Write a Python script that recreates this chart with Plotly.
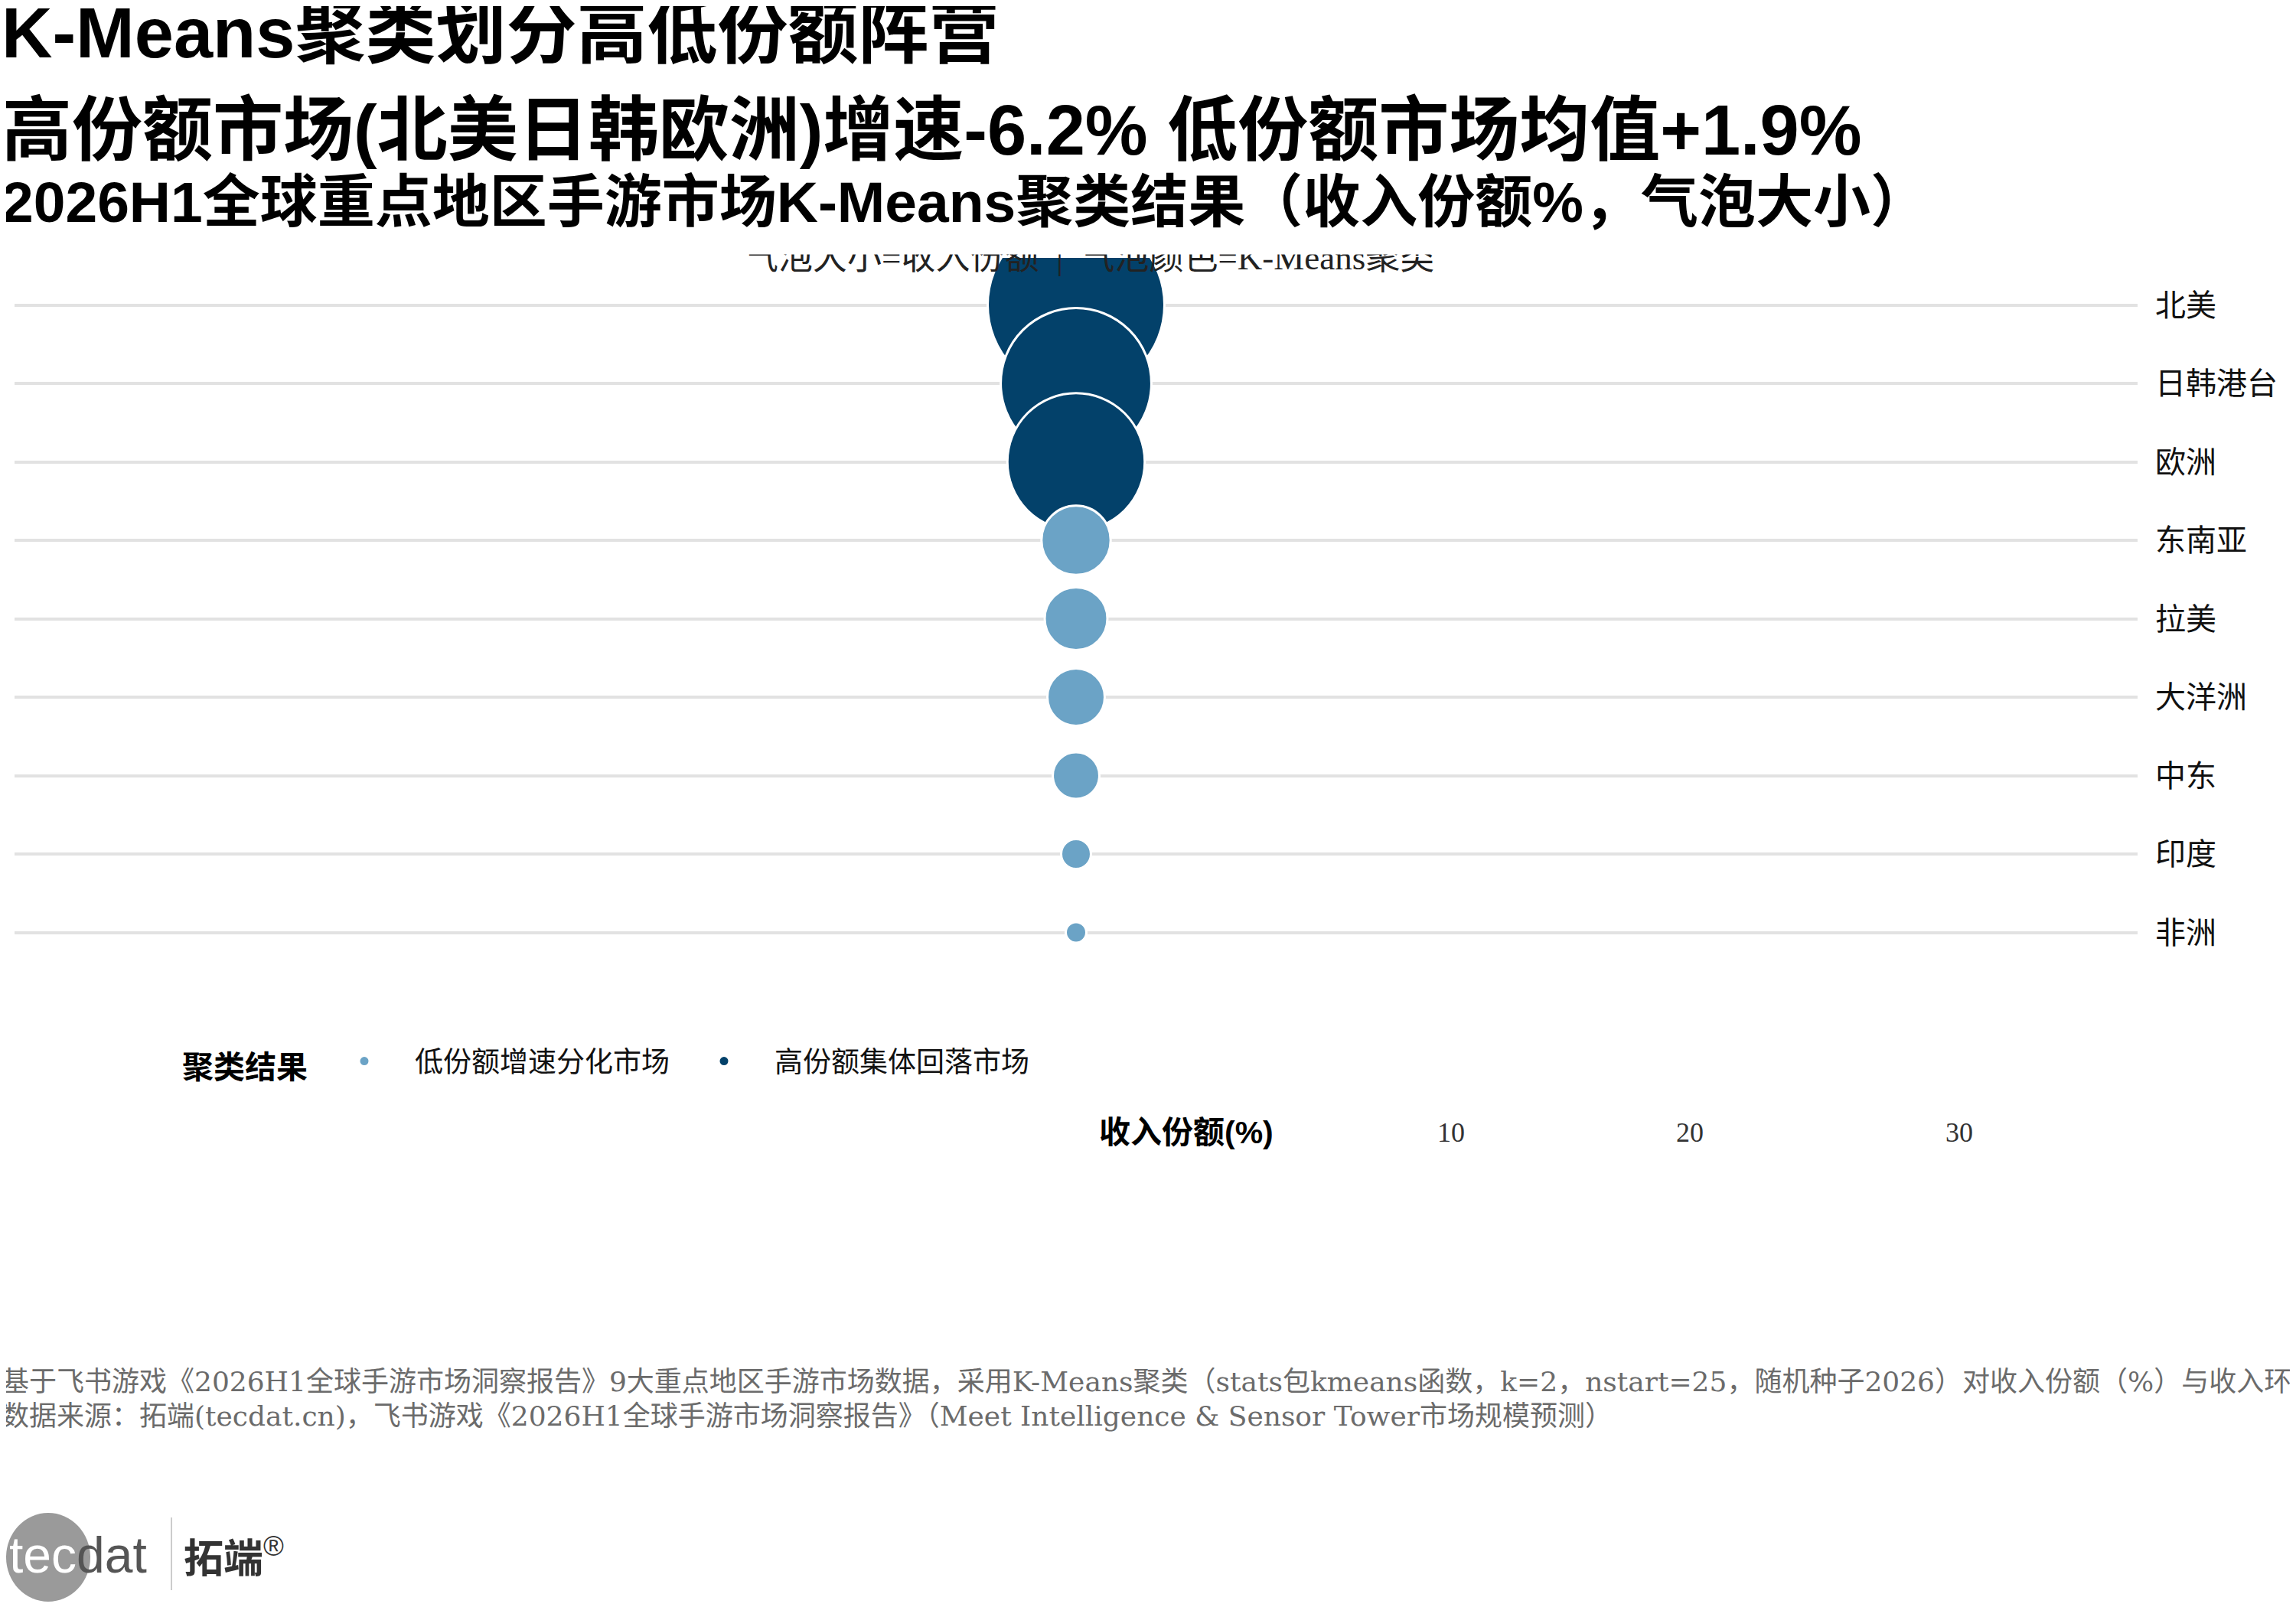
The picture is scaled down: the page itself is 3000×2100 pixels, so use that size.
import numpy as np
import plotly.graph_objects as go

# 9 regions, top to bottom as drawn
regions = ["北美", "日韩港台", "欧洲", "东南亚", "拉美", "大洋洲", "中东", "印度", "非洲"]
revenue_share = [30.5, 21.6, 17.7, 4.3, 3.6, 3.1, 2.3, 1.6, 1.5]
cluster = ["高份额集体回落市场", "高份额集体回落市场", "高份额集体回落市场",
           "低份额增速分化市场", "低份额增速分化市场", "低份额增速分化市场",
           "低份额增速分化市场", "低份额增速分化市场", "低份额增速分化市场"]
x_pos = [0, 0, 0, 0, 0, 0, 0, 0, 0]  # every bubble sits on the same column
legend_order = ["低份额增速分化市场", "高份额集体回落市场"]
size_breaks = [10, 20, 30]

colors = {"高份额集体回落市场": "#03416A", "低份额增速分化市场": "#6BA3C6"}

W, H = 3000, 2100
OFF = 8  # page body margin, the html puts the chart 8px in
ML, MT = 19 - OFF, 337 - OFF
PW, PH = 2774, 943
MR = W - ML - PW
MB = H - MT - PH

SERIF = "Liberation Serif, Noto Sans CJK SC, serif"
FOOT = "DejaVu Serif, Noto Sans CJK SC, serif"
SANS = "Liberation Sans, Noto Sans CJK SC, sans-serif"


def xp(px):
    return (px - OFF - ML) / PW


def yp(py):
    return (H - MB - (py - OFF)) / PH


share = np.array(revenue_share)
d_min, d_max = 27, 231


def bubble(v):
    # area-style size scale, like ggplot's scale_size
    v = np.asarray(v, dtype=float)
    return d_min + (d_max - d_min) * np.sqrt((v - share.min()) / (share.max() - share.min()))


fig = go.Figure()

for name in ["高份额集体回落市场", "低份额增速分化市场"]:
    idx = [i for i, c in enumerate(cluster) if c == name]
    fig.add_trace(go.Scatter(
        x=[x_pos[i] for i in idx],
        y=[regions[i] for i in idx],
        mode="markers",
        marker=dict(size=bubble(share[idx]), color=colors[name],
                    line=dict(color="white", width=3), opacity=1),
        showlegend=False,
        customdata=[revenue_share[i] for i in idx],
        hovertemplate="%{y}: %{customdata}%<extra></extra>",
    ))

# small dots just for the legend
for name in legend_order:
    fig.add_trace(go.Scatter(
        x=[None], y=[None], mode="markers", name=name,
        marker=dict(size=11, color=colors[name]),
    ))

annotations = []

# subtitle, half hidden under the title block
annotations.append(dict(
    text="气泡大小=收入份额  |  气泡颜色=K-Means聚类",
    x=xp(1423), y=yp(337), xanchor="center", yanchor="middle",
    font=dict(family=SERIF, size=45, color="#222222"),
))
# white block behind the titles
annotations.append(dict(
    text=" ", x=xp(1500), y=yp(166), xanchor="center", yanchor="middle",
    width=3000, height=332, bgcolor="white", borderpad=0,
))

titles = [
    ("K-Means聚类划分高低份额阵营", 43, 92),
    ("高份额市场(北美日韩欧洲)增速-6.2% 低份额市场均值+1.9%", 170, 92),
    ("2026H1全球重点地区手游市场K-Means聚类结果（收入份额%，气泡大小）", 264, 75),
]
for txt, yc, fs in titles:
    annotations.append(dict(
        text="<b>" + txt + "</b>", x=xp(0), y=yp(yc), xanchor="left", yanchor="middle",
        font=dict(family=SANS, size=fs, color="#000000"),
    ))

# size legend (keys are blank in the original)
annotations.append(dict(
    text="<b>收入份额(%)</b>", x=xp(1434), y=yp(1480), xanchor="left", yanchor="middle",
    font=dict(family=SANS, size=41, color="#000000"),
))
cur = 1666 + 76
for b in size_breaks:
    cur += float(bubble(b))
    lab = cur + 17
    annotations.append(dict(
        text=str(b), x=xp(lab), y=yp(1480), xanchor="center", yanchor="middle",
        font=dict(family=SERIF, size=36, color="#333333"),
    ))
    cur = lab + 17 + 88

# footer
footer = [
    "基于飞书游戏《2026H1全球手游市场洞察报告》9大重点地区手游市场数据，采用K-Means聚类（stats包kmeans函数，k=2，nstart=25，随机种子2026）对收入份额（%）与收入环比增速（%）进行聚类",
    "数据来源：拓端(tecdat.cn)，飞书游戏《2026H1全球手游市场洞察报告》（Meet Intelligence & Sensor Tower市场规模预测）",
]
for txt, yc in zip(footer, [1805, 1851]):
    annotations.append(dict(
        text=txt, x=xp(0), y=yp(yc), xanchor="left", yanchor="middle",
        font=dict(family=FOOT, size=36, color="#6b6b6b"),
    ))

# logo
annotations.append(dict(
    text="<span style='color:white'>tec</span>dat", x=xp(10), y=yp(2032),
    xanchor="left", yanchor="middle",
    font=dict(family=SANS, size=66, color="#555555"),
))
annotations.append(dict(
    text="<b>拓端</b><sup>®</sup>", x=xp(238), y=yp(2033), xanchor="left", yanchor="middle",
    font=dict(family=SANS, size=52, color="#333333"),
))
for a in annotations:
    a.setdefault("xref", "paper")
    a.setdefault("yref", "paper")
    a.setdefault("showarrow", False)

shapes = [
    dict(type="circle", xref="paper", yref="paper",
         x0=xp(8), x1=xp(118), y0=yp(2093), y1=yp(1977),
         fillcolor="#9a9a9a", line=dict(width=0), layer="below"),
    dict(type="line", xref="paper", yref="paper",
         x0=xp(224), x1=xp(224), y0=yp(2078), y1=yp(1983),
         line=dict(color="#cccccc", width=2)),
]

fig.update_layout(
    width=W, height=H,
    margin=dict(l=ML, r=MR, t=MT, b=MB, pad=0, autoexpand=False),
    plot_bgcolor="white", paper_bgcolor="white",
    xaxis=dict(range=[-1, 1], visible=False),
    yaxis=dict(
        type="category", categoryorder="array", categoryarray=regions,
        range=[len(regions) - 1 + 0.6, -0.6],
        side="right", showgrid=True, gridcolor="#e2e2e2", gridwidth=4,
        zeroline=False, showline=False, ticks="", ticklabelstandoff=22,
        tickfont=dict(family=SERIF, size=40, color="#111111"),
    ),
    legend=dict(
        orientation="h", x=xp(236), xanchor="left", y=yp(1388), yanchor="middle",
        title=dict(text="<b>聚类结果</b>", font=dict(family=SANS, size=41, color="#000000")),
        font=dict(family=SERIF, size=37, color="#111111"),
        itemwidth=122, bgcolor="rgba(0,0,0,0)",
    ),
    annotations=annotations,
    shapes=shapes,
    showlegend=True,
)

fig.write_html("out.html")
